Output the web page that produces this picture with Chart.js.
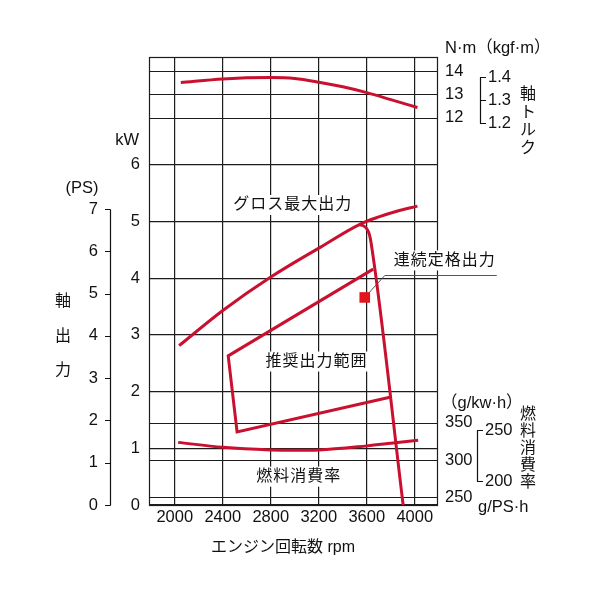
<!DOCTYPE html>
<html lang="ja">
<head>
<meta charset="utf-8">
<script src="https://cdn.jsdelivr.net/npm/chart.js@4"></script>
<style>
html, body { margin: 0; background: #fff; }
#wrap { width: 600px; height: 600px; }
</style>
</head>
<body>
<div id="wrap"><canvas id="chart"></canvas></div>
<script>
// tick labels
const rpmTicks = [2000, 2400, 2800, 3200, 3600, 4000];
const kwTicks = [0, 1, 2, 3, 4, 5, 6];
const psTicks = [0, 1, 2, 3, 4, 5, 6, 7];
const nmTicks = [12, 13, 14];
const kgfTicks = [1.2, 1.3, 1.4];
const fuelKwTicks = [250, 300, 350];
const fuelPsTicks = [200, 250];

// curves
const torqueRpm = [2050, 2400, 2800, 3000, 3200, 3400, 3600, 3800, 4022];
const torqueNm = [13.50, 13.66, 13.72, 13.68, 13.52, 13.32, 13.07, 12.77, 12.43];

const grossRpm = [2036, 2400, 2800, 3200, 3542, 3700, 3850, 4022];
const grossKw = [2.81, 3.43, 4.02, 4.53, 4.95, 5.08, 5.18, 5.27];

const governorRpm = [3542, 3575, 3600, 3620, 3636, 3903];
const governorKw = [4.94, 4.92, 4.87, 4.78, 4.62, 0];

const rangeRpm = [3653, 2445, 2519, 3792];
const rangeKw = [4.16, 2.63, 1.29, 1.90];

const ratedRpm = [3583];
const ratedKw = [3.66];

const fuelRpm = [2028, 2400, 2800, 3000, 3200, 3600, 3800, 4028];
const fuelGkwh = [323.7, 317, 313.5, 313, 313.5, 319, 322.5, 326.6];

// axis ranges
const RPM_MIN = 1785, RPM_MAX = 4185;
const KW_MAX = 7.9;
const PS_MAX = 10.6;
const NM_MIN = -4.64, NM_MAX = 14.6;
const FUEL_MIN = 239.7, FUEL_MAX = 840.6;
const KGF = 9.80665;
const KW_PER_PS = 0.7355;

const FONT = '"Liberation Sans", "Noto Sans CJK JP", sans-serif';
const INK = '#111';
const GRID = '#1c1c1c';
const RED = '#c9102f';

const pts = (xs, ys) => xs.map((x, i) => ({ x: x, y: ys[i] }));
const fixTicks = list => scale => { scale.ticks = list.map(v => ({ value: v })); };

function label(ctx, str, x, y, align, bg) {
  ctx.textAlign = align || 'center';
  ctx.textBaseline = 'middle';
  if (bg) {
    const w = ctx.measureText(str).width;
    const x0 = align === 'left' ? x : align === 'right' ? x - w : x - w / 2;
    ctx.fillStyle = '#fff';
    ctx.fillRect(x0 - 3, y - 10, w + 6, 20);
  }
  ctx.fillStyle = INK;
  ctx.fillText(str, x, y);
}

function vlabel(ctx, str, x, y0, step) {
  [...str].forEach((ch, i) => label(ctx, ch, x, y0 + i * step));
}

function bracket(ctx, scale, values, x, fmt) {
  const ys = values.map(v => Math.round(scale.getPixelForValue(v)) + 0.5);
  ctx.beginPath();
  ctx.moveTo(x + 0.5, Math.min(...ys));
  ctx.lineTo(x + 0.5, Math.max(...ys));
  ys.forEach(y => { ctx.moveTo(x, y); ctx.lineTo(x + 6, y); });
  ctx.stroke();
  values.forEach((v, i) => label(ctx, fmt(v), x + 8, ys[i], 'left'));
}

const decor = {
  id: 'decor',
  beforeDatasetsDraw(chart) {
    const { ctx, chartArea: a, scales: s } = chart;
    ctx.save();
    ctx.strokeStyle = GRID;
    ctx.lineWidth = 1.2;
    const hline = v => {
      const y = Math.round(v) + 0.5;
      ctx.beginPath(); ctx.moveTo(a.left, y); ctx.lineTo(a.right, y); ctx.stroke();
    };
    nmTicks.forEach(v => hline(s.yNm.getPixelForValue(v)));
    fuelKwTicks.forEach(v => hline(s.yFuel.getPixelForValue(v)));
    ctx.strokeRect(Math.round(a.left) + 0.5, Math.round(a.top) + 0.5,
      Math.round(a.right - a.left), Math.round(a.bottom - a.top));

    ctx.font = '16px ' + FONT;
    ctx.letterSpacing = '1px';
    label(ctx, 'グロス最大出力', s.x.getPixelForValue(2983), s.yKw.getPixelForValue(5.29), 'center', true);
    label(ctx, '推奨出力範囲', s.x.getPixelForValue(3181), s.yKw.getPixelForValue(2.53), 'center', true);
    label(ctx, '燃料消費率', s.x.getPixelForValue(3033), s.yKw.getPixelForValue(0.5), 'center', true);

    // leader for continuous rating
    const mx = s.x.getPixelForValue(ratedRpm[0]);
    const my = s.yKw.getPixelForValue(ratedKw[0]);
    ctx.strokeStyle = '#555';
    ctx.lineWidth = 1;
    ctx.beginPath();
    ctx.moveTo(mx, my);
    ctx.lineTo(mx + 20, Math.round(my - 22) + 0.5);
    ctx.lineTo(mx + 132, Math.round(my - 22) + 0.5);
    ctx.stroke();
    label(ctx, '連続定格出力', mx + 80, my - 37, 'center', true);
    ctx.restore();
  },
  afterDraw(chart) {
    const { ctx, chartArea: a, scales: s } = chart;
    ctx.save();
    ctx.strokeStyle = INK;
    ctx.lineWidth = 1.2;
    ctx.font = '16.5px ' + FONT;

    // left: kW and PS
    label(ctx, 'kW', a.left - 10, 140, 'right');
    kwTicks.forEach(v => label(ctx, String(v), a.left - 9, s.yKw.getPixelForValue(v), 'right'));
    label(ctx, '(PS)', 82, 188);
    const px = 110;
    const ps = s.yPs;
    ctx.beginPath();
    ctx.moveTo(px + 0.5, Math.round(ps.getPixelForValue(0)) + 0.5);
    ctx.lineTo(px + 0.5, Math.round(ps.getPixelForValue(7)) + 0.5);
    psTicks.forEach(v => {
      const y = Math.round(ps.getPixelForValue(v)) + 0.5;
      ctx.moveTo(px - 5, y); ctx.lineTo(px + 0.5, y);
    });
    ctx.stroke();
    psTicks.forEach(v => label(ctx, String(v), px - 12, ps.getPixelForValue(v), 'right'));
    ctx.font = '16px ' + FONT;
    vlabel(ctx, '軸出力', 63, 302, 34.5);

    // right: torque
    const rx = a.right + 8;
    ctx.font = '16.5px ' + FONT;
    label(ctx, 'N·m（kgf·m）', rx, 48, 'left');
    nmTicks.forEach(v => label(ctx, String(v), rx, s.yNm.getPixelForValue(v), 'left'));
    bracket(ctx, s.yKgf, kgfTicks, a.right + 43, v => v.toFixed(1));

    // right: fuel
    label(ctx, '（g/kw·h）', rx - 4, 403, 'left');
    fuelKwTicks.forEach(v => label(ctx, String(v), rx, s.yFuel.getPixelForValue(v), 'left'));
    bracket(ctx, s.yGps, fuelPsTicks, a.right + 40, v => String(v));
    label(ctx, 'g/PS·h', a.right + 41, 507, 'left');

    ctx.font = '16px ' + FONT;
    vlabel(ctx, '軸トルク', a.right + 91, 95, 17.7);
    vlabel(ctx, '燃料消費率', a.right + 91, 415, 17);

    // bottom title
    label(ctx, 'エンジン回転数 rpm', 283, 548);
    ctx.restore();
  }
};

const line = (data, axis, extra) => Object.assign({
  data: data,
  yAxisID: axis,
  showLine: true,
  borderColor: RED,
  borderWidth: 3,
  pointRadius: 0,
  cubicInterpolationMode: 'monotone',
  borderCapStyle: 'butt',
  borderJoinStyle: 'miter',
  fill: false
}, extra || {});

new Chart(document.getElementById('chart'), {
  type: 'scatter',
  data: {
    datasets: [
      line(pts(torqueRpm, torqueNm), 'yNm'),
      line(pts(grossRpm, grossKw), 'yKw'),
      line(pts(governorRpm, governorKw), 'yKw'),
      line(pts(rangeRpm, rangeKw), 'yKw', { cubicInterpolationMode: 'default', tension: 0 }),
      line(pts(fuelRpm, fuelGkwh), 'yFuel'),
      {
        data: pts(ratedRpm, ratedKw),
        yAxisID: 'yKw',
        showLine: false,
        pointStyle: 'rect',
        pointRadius: 7.5,
        backgroundColor: '#e2141e',
        borderWidth: 0
      }
    ]
  },
  options: {
    responsive: true,
    maintainAspectRatio: false,
    animation: false,
    events: [],
    layout: { padding: { left: 149, right: 163, top: 57, bottom: 71 } },
    plugins: { legend: { display: false }, tooltip: { enabled: false } },
    scales: {
      x: {
        type: 'linear',
        min: RPM_MIN, max: RPM_MAX,
        afterBuildTicks: fixTicks(rpmTicks),
        afterFit: scale => { scale.height = 24; },
        grid: { color: GRID, lineWidth: 1.2, drawTicks: false },
        border: { display: false },
        ticks: { padding: 3, color: INK, font: { family: FONT, size: 16.5 }, callback: v => String(v) }
      },
      yKw: {
        type: 'linear', position: 'left',
        min: 0, max: KW_MAX,
        afterBuildTicks: fixTicks(kwTicks),
        afterFit: scale => { scale.width = 0; },
        grid: { color: GRID, lineWidth: 1.2, drawTicks: false },
        border: { display: false },
        ticks: { display: false }
      },
      yPs: { type: 'linear', display: false, min: 0, max: PS_MAX },
      yNm: { type: 'linear', display: false, min: NM_MIN, max: NM_MAX },
      yKgf: { type: 'linear', display: false, min: NM_MIN / KGF, max: NM_MAX / KGF },
      yFuel: { type: 'linear', display: false, min: FUEL_MIN, max: FUEL_MAX },
      yGps: { type: 'linear', display: false, min: FUEL_MIN * KW_PER_PS, max: FUEL_MAX * KW_PER_PS }
    }
  },
  plugins: [decor]
});
</script>
</body>
</html>
